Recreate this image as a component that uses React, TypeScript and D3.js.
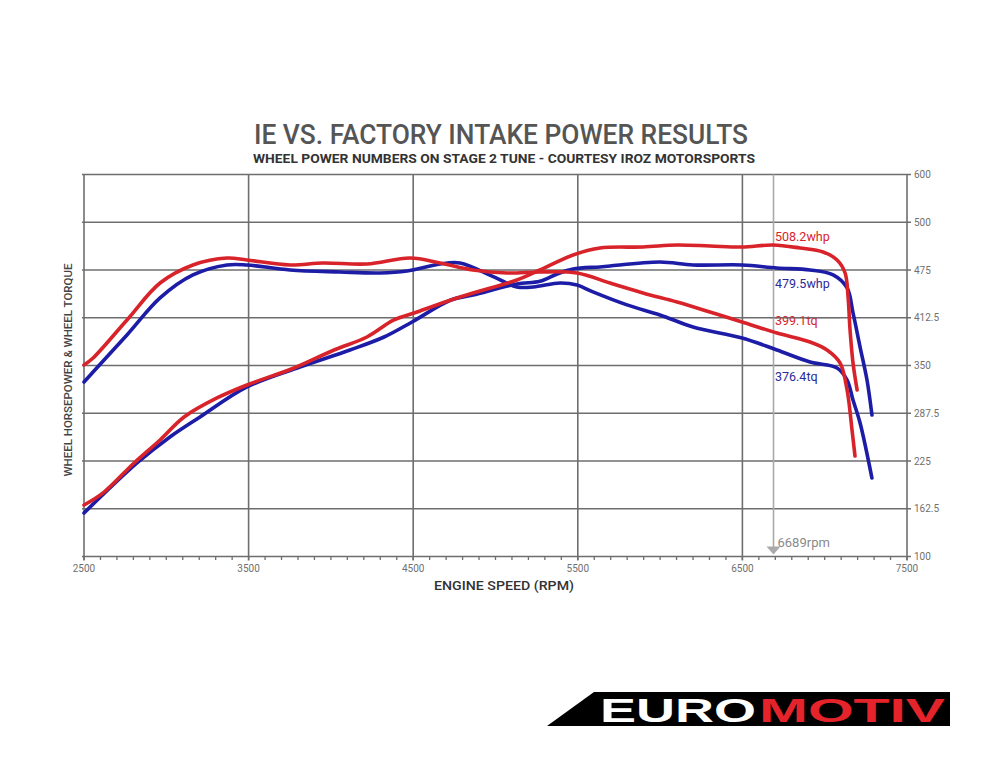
import React from "react";
import * as d3 from "d3";

const xTickValues = [2500, 3500, 4500, 5500, 6500, 7500];
const yTickValues = [100, 162.5, 225, 287.5, 350, 412.5, 475, 537.5, 600];
const yTickLabels = ["100", "162.5", "225", "287.5", "350", "412.5", "475", "500", "600"];

const redTorque: [number, number][] = [
  [2500, 350.7], [2555, 359.8], [2761, 409.6], [2962, 458.0], [3162, 481.6], [3369, 490.7],
  [3490, 488.1], [3752, 481.6], [3952, 484.2], [4219, 482.9], [4481, 490.7], [4663, 484.2],
  [4863, 475.0], [5070, 471.1], [5270, 472.4], [5495, 471.1], [5696, 458.0], [5896, 444.9],
  [6103, 433.1], [6303, 420.0], [6498, 406.9], [6710, 392.5], [6911, 380.7], [7014, 370.3],
  [7093, 353.3], [7136, 317.9], [7166, 265.6], [7184, 231.5],
];
const blueTorque: [number, number][] = [
  [2500, 328.4], [2555, 341.5], [2761, 389.9], [2962, 438.4], [3162, 468.5], [3369, 481.6],
  [3490, 481.6], [3752, 475.0], [4055, 472.4], [4298, 471.1], [4462, 473.7], [4663, 482.9],
  [4784, 484.2], [4990, 466.0], [5130, 452.8], [5230, 452.8], [5392, 458.0], [5495, 455.4],
  [5592, 446.3], [5799, 429.3], [5999, 416.2], [6200, 400.4], [6498, 386.0], [6710, 370.3],
  [6911, 354.6], [7075, 346.7], [7136, 331.0], [7172, 304.8], [7215, 274.7], [7287, 202.7],
];
const redPower: [number, number][] = [
  [2500, 167.4], [2620, 184.0], [2804, 222.4], [2962, 252.5], [3108, 282.6], [3308, 307.5],
  [3490, 324.5], [3776, 346.7], [4019, 370.3], [4219, 387.3], [4383, 409.6], [4523, 420.0],
  [4729, 435.7], [4863, 444.9], [5130, 461.9], [5270, 475.0], [5471, 494.6], [5635, 503.8],
  [5896, 505.1], [6103, 507.7], [6303, 506.4], [6498, 505.1], [6686, 507.7], [6850, 503.8],
  [6990, 498.6], [7075, 488.1], [7124, 471.1], [7142, 439.7], [7154, 396.5], [7172, 353.3],
  [7197, 317.9],
];
const bluePower: [number, number][] = [
  [2500, 156.9], [2822, 222.4], [3022, 256.4], [3205, 282.6], [3490, 321.9],
  [3812, 348.0], [4116, 370.3], [4323, 387.3], [4493, 407.0], [4729, 435.7], [4863, 442.3],
  [5130, 456.7], [5270, 460.3], [5374, 469.8], [5471, 476.3], [5635, 479.0], [5696, 480.3],
  [5999, 485.5], [6200, 481.6], [6498, 481.6], [6710, 477.6], [6911, 475.0], [7051, 468.5],
  [7136, 451.5], [7172, 418.8], [7215, 374.2], [7257, 331.0], [7287, 285.2],
];

const endLabels = [
  { text: "508.2whp", value: 513, color: "red" },
  { text: "479.5whp", value: 451.5, color: "blue" },
  { text: "399.1tq", value: 403, color: "red" },
  { text: "376.4tq", value: 329.7, color: "blue" },
];
const markerRpm = 6689;

const RED = "#d8232a";
const BLUE = "#1c1ca6";
const GRID = "#6e6e6e";

export default function App() {
  const x = d3.scaleLinear().domain([2500, 7500]).range([84, 907]);
  const y = d3.scaleLinear().domain([100, 600]).range([556.5, 174.5]);
  const line = d3
    .line<[number, number]>()
    .x((d) => x(d[0]))
    .y((d) => y(d[1]))
    .curve(d3.curveCatmullRom.alpha(0.5));
  const minor = d3.range(2500, 7501, 100);
  const font = "Roboto, 'DejaVu Sans', sans-serif";

  return (
    <svg
      width={1000}
      height={775}
      style={{ position: "absolute", left: 0, top: 0, background: "#fff" }}
      fontFamily={font}
    >
      <rect x={0} y={0} width={1000} height={775} fill="#fff" />
      <text x={501} y={144} textAnchor="middle" fontSize={27} fill="#555" fontWeight={500}
        textLength={494} lengthAdjust="spacingAndGlyphs">
        IE VS. FACTORY INTAKE POWER RESULTS
      </text>
      <text x={504} y={163} textAnchor="middle" fontSize={12.5} fill="#333" fontWeight={700}
        textLength={502} lengthAdjust="spacingAndGlyphs">
        WHEEL POWER NUMBERS ON STAGE 2 TUNE - COURTESY IROZ MOTORSPORTS
      </text>

      {/* horizontal gridlines */}
      {yTickValues.map((v, i) => (
        <g key={"h" + i}>
          <line x1={82} x2={911} y1={y(v)} y2={y(v)} stroke={GRID} strokeWidth={1.6} />
          <text x={914} y={y(v) + 3.5} fontSize={10} fill="#707070">{yTickLabels[i]}</text>
        </g>
      ))}
      {/* vertical gridlines */}
      {xTickValues.map((v) => (
        <g key={"v" + v}>
          <line x1={x(v)} x2={x(v)} y1={y(600)} y2={y(100) + 4} stroke={GRID} strokeWidth={1.6} />
          <text x={x(v)} y={572} textAnchor="middle" fontSize={10} fill="#707070">{v}</text>
        </g>
      ))}
      {minor.map((v) => (
        <line key={"m" + v} x1={x(v)} x2={x(v)} y1={y(100)} y2={y(100) + 3.5} stroke={GRID} strokeWidth={1.3} />
      ))}

      {/* rpm marker */}
      <line x1={x(markerRpm)} x2={x(markerRpm)} y1={y(600)} y2={y(100) - 8} stroke="#aaa" strokeWidth={1.6} />
      <path
        d={`M${x(markerRpm) - 7},${y(100) - 10} L${x(markerRpm) + 7},${y(100) - 10} L${x(markerRpm)},${y(100) - 2} Z`}
        fill="#aaa"
      />
      <text x={x(markerRpm) + 4} y={y(100) - 10} fontSize={13} fill="#8a8a8a">{markerRpm}rpm</text>

      {/* curves */}
      <g fill="none" strokeWidth={3.6} strokeLinecap="round" strokeLinejoin="round">
        <path d={line(bluePower) || ""} stroke={BLUE} />
        <path d={line(blueTorque) || ""} stroke={BLUE} />
        <path d={line(redPower) || ""} stroke={RED} />
        <path d={line(redTorque) || ""} stroke={RED} />
      </g>

      {/* end labels */}
      {endLabels.map((l) => (
        <text key={l.text} x={775} y={y(l.value)} fontSize={12.5} fill={l.color === "red" ? RED : "#2a2a9a"}>
          {l.text}
        </text>
      ))}
      {/* gridline over 399.1tq as in reference */}
      <line x1={770} x2={840} y1={y(412.5)} y2={y(412.5)} stroke={GRID} strokeWidth={1.2} opacity={0.8} />

      <text x={72} y={370} transform="rotate(-90 72 370)" textAnchor="middle" fontSize={10} fill="#444"
        fontWeight={500} textLength={213} lengthAdjust="spacingAndGlyphs">
        WHEEL HORSEPOWER &amp; WHEEL TORQUE
      </text>
      <text x={504} y={590} textAnchor="middle" fontSize={12.5} fill="#333" fontWeight={500}
        textLength={140} lengthAdjust="spacingAndGlyphs">
        ENGINE SPEED (RPM)
      </text>

      {/* logo */}
      <path d="M547,726 L594,692 L950,692 L950,726 Z" fill="#000" />
      <text x={600} y={722} fontSize={34} fontWeight={700} fill="#fff" fontFamily="'Liberation Sans', Arial, sans-serif"
        textLength={156} lengthAdjust="spacingAndGlyphs">
        EURO
      </text>
      <text x={759} y={722} fontSize={34} fontWeight={700} fill="#e4232b" fontFamily="'Liberation Sans', Arial, sans-serif"
        textLength={186} lengthAdjust="spacingAndGlyphs">
        MOTIV
      </text>
    </svg>
  );
}
